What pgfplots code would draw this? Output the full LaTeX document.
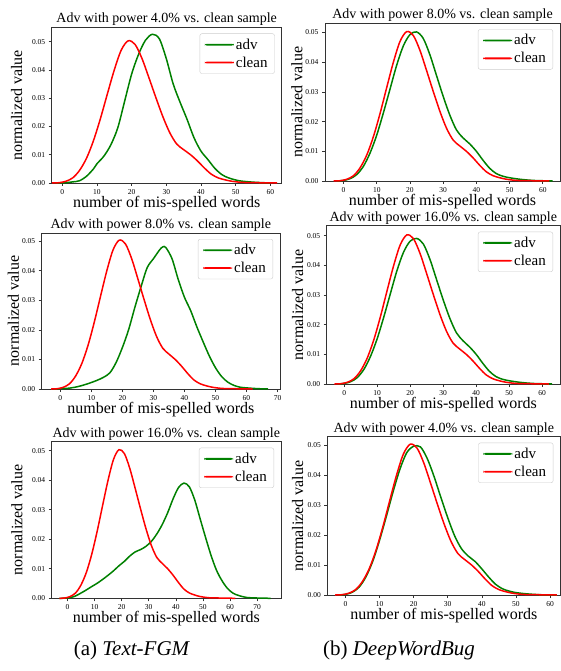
\documentclass[border=0pt]{standalone}
\usepackage{fontspec}
\setmainfont{Liberation Serif}
\usepackage{pgfplots}
\pgfplotsset{compat=1.18}

\definecolor{mgreen}{HTML}{008000}
\definecolor{mred}{HTML}{FF0000}

% clean sample density, shared by all panels
\pgfplotstableread{
x y
-3 0
-1 0.0001
1 0.0006
3 0.0018
5 0.0045
7 0.0088
9 0.0150
11 0.0228
13 0.0315
15 0.0400
17 0.0470
19 0.0503
21 0.0490
23 0.0440
25 0.0372
27 0.0302
29 0.0235
31 0.0178
33 0.0138
35 0.0118
37 0.0100
39 0.0078
41 0.0053
43 0.0031
45 0.0018
47 0.0011
49 0.0006
52 0.0002
56 0.0001
62 0
}\clean

\pgfplotsset{
  panel/.style={
    scale only axis, ymin=0, clip=false,
    axis line style={black!80,line width=0.7pt},
    tick pos=left, tick align=outside, major tick length=3pt,
    tick style={black!80,line width=0.6pt},
    ytick={0,0.01,0.02,0.03,0.04,0.05}, scaled y ticks=false,
    yticklabel style={/pgf/number format/.cd,fixed,fixed zerofill,precision=2},
    /pgf/number format/assume math mode=true,
    tick label style={font=\fontsize{7.5}{8}\selectfont},
    label style={font=\fontsize{16}{18}\selectfont},
    xlabel style={at={(0.5,0)},anchor=base,yshift=-24.5pt},
    legend style={at={(1,1)},xshift=-7pt,yshift=-6pt,anchor=north east,
      draw=black!20,rounded corners=2pt,fill=white,
      font=\fontsize{15}{17}\selectfont,row sep=2pt,inner xsep=5pt,inner ysep=3pt},
    legend cell align=left,
    legend image code/.code={\path[draw=none,fill] (0pt,-0.9pt) rectangle (29pt,0.9pt);},
    every axis plot/.append style={line width=1.5pt,smooth,no marks},
    xlabel={number of mis-spelled words}, ylabel={normalized value},
  }
}
\newcommand\ptitle[1]{\node[font=\fontsize{14}{16}\selectfont,anchor=base,yshift=4.7pt]
  at (axis description cs:0.5,1) {#1};}

\begin{document}
\begin{tikzpicture}
\useasboundingbox (0,0) rectangle (561pt,-671pt);

% ---------- (a) Text-FGM, 4% ----------
\begin{axis}[panel,at={(51.7pt,-27.5pt)},anchor=north west,
  width=230pt,height=155.5pt,xmin=-3.06,xmax=63.3,ymax=0.0550,
  xtick={0,10,...,60},
  ylabel style={at={(axis description cs:-0.129,0.5)},anchor=base}]
\addplot[mgreen] coordinates {(-2,0)(1,0.0001)(3,0.0004)(5,0.0008)(7,0.0024)(9,0.0050)(10,0.0068)(12,0.0095)(14,0.0135)(16,0.0195)(18,0.0290)(20,0.0385)(22,0.0455)(24,0.0505)(26,0.0526)(28,0.0510)(30,0.0440)(32,0.0350)(34,0.0285)(36,0.0225)(38,0.0160)(40,0.0113)(42,0.0083)(44,0.0052)(46,0.0030)(48,0.0018)(51,0.0008)(55,0.0003)(60,0)};
\addplot[mred] table {\clean};
\legend{adv,clean}
\ptitle{Adv with power 4.0\% vs. clean sample}
\end{axis}

% ---------- (a) Text-FGM, 8% ----------
\begin{axis}[panel,at={(41.7pt,-233pt)},anchor=north west,
  width=238.3pt,height=156pt,xmin=-6.0,xmax=70.8,ymax=0.0527,
  xtick={0,10,...,70},
  ylabel style={at={(axis description cs:-0.0953,0.5)},anchor=base}]
\addplot[mgreen] coordinates {(-2,0)(3,0.0003)(6,0.0009)(8,0.0015)(10,0.0022)(12,0.0030)(14,0.0040)(16,0.0055)(18,0.0090)(20,0.0140)(22,0.0200)(24,0.0275)(26,0.0345)(28,0.0410)(30,0.0440)(32,0.0470)(33,0.0480)(34,0.0478)(36,0.0440)(38,0.0370)(40,0.0310)(42,0.0265)(44,0.0210)(46,0.0160)(48,0.0112)(50,0.0072)(52,0.0042)(54,0.0023)(56,0.0012)(58,0.0006)(61,0.0003)(64,0.0001)(67,0)};
\addplot[mred] table {\clean};
\legend{adv,clean}
\ptitle{Adv with power 8.0\% vs. clean sample}
\end{axis}

% ---------- (a) Text-FGM, 16% ----------
\begin{axis}[panel,at={(51.7pt,-441.7pt)},anchor=north west,
  width=229.3pt,height=156.6pt,xmin=-5.8,xmax=78.8,ymax=0.0530,
  xtick={0,10,...,70},
  ylabel style={at={(axis description cs:-0.128,0.5)},anchor=base}]
\addplot[mgreen] coordinates {(-3,0)(0,0.0001)(2.5,0.0006)(6,0.0023)(9,0.0040)(11,0.0051)(13,0.0064)(15,0.0078)(17,0.0093)(19,0.0110)(21,0.0125)(23,0.0143)(25,0.0157)(27,0.0165)(29,0.0176)(31,0.0193)(33,0.0218)(35,0.0250)(37,0.0290)(39,0.0337)(41,0.0375)(43,0.0390)(45,0.0377)(47,0.0332)(49,0.0268)(51,0.0205)(53,0.0145)(55,0.0095)(57,0.0060)(59,0.0034)(61,0.0018)(63,0.0010)(66,0.0003)(70,0.0001)(75,0)};
\addplot[mred] table {\clean};
\legend{adv,clean}
\ptitle{Adv with power 16.0\% vs. clean sample}
\end{axis}

% ---------- (b) DeepWordBug, 8% ----------
\begin{axis}[panel,at={(325pt,-23.3pt)},anchor=north west,
  width=235pt,height=157.7pt,xmin=-5.6,xmax=65.2,ymax=0.0531,
  xtick={0,10,...,60},
  ylabel style={at={(axis description cs:-0.0966,0.5)},anchor=base}]
\addplot[mgreen] coordinates {(-2,0)(0,0.0002)(2,0.0008)(4,0.0022)(6,0.0050)(8,0.0095)(10,0.0155)(12,0.0230)(14,0.0310)(16,0.0390)(18,0.0455)(20,0.0493)(22,0.0502)(24,0.0480)(26,0.0425)(28,0.0355)(30,0.0285)(32,0.0222)(34,0.0172)(36,0.0145)(38,0.0125)(40,0.0100)(42,0.0070)(44,0.0043)(46,0.0025)(48,0.0016)(50,0.0011)(53,0.0006)(57,0.0002)(63,0)};
\addplot[mred] table {\clean};
\legend{adv,clean}
\ptitle{Adv with power 8.0\% vs. clean sample}
\end{axis}

% ---------- (b) DeepWordBug, 16% ----------
\begin{axis}[panel,at={(326.7pt,-225.7pt)},anchor=north west,
  width=233.3pt,height=158.3pt,xmin=-5.3,xmax=65.4,ymax=0.0534,
  xtick={0,10,...,60},
  ylabel style={at={(axis description cs:-0.1016,0.5)},anchor=base}]
\addplot[mgreen] coordinates {(-2,0)(0,0.0002)(2,0.0008)(4,0.0022)(6,0.0050)(8,0.0094)(10,0.0153)(12,0.0226)(14,0.0305)(16,0.0383)(18,0.0445)(20,0.0482)(22,0.0491)(24,0.0472)(26,0.0420)(28,0.0352)(30,0.0284)(32,0.0222)(34,0.0173)(36,0.0146)(38,0.0125)(40,0.0100)(42,0.0070)(44,0.0043)(46,0.0025)(48,0.0016)(50,0.0011)(53,0.0006)(57,0.0002)(63,0)};
\addplot[mred] table {\clean};
\legend{adv,clean}
\ptitle{Adv with power 16.0\% vs. clean sample}
\end{axis}

% ---------- (b) DeepWordBug, 4% ----------
\begin{axis}[panel,at={(327.3pt,-436.7pt)},anchor=north west,
  width=233pt,height=158.3pt,xmin=-5.3,xmax=63.0,ymax=0.0528,
  xtick={0,10,...,60},
  ylabel style={at={(axis description cs:-0.104,0.5)},anchor=base}]
\addplot[mgreen] coordinates {(-2,0)(0,0.0002)(2,0.0009)(4,0.0026)(6,0.0060)(8,0.0112)(10,0.0182)(12,0.0262)(14,0.0345)(16,0.0420)(18,0.0475)(20,0.0496)(22,0.0494)(24,0.0455)(26,0.0395)(28,0.0325)(30,0.0258)(32,0.0198)(34,0.0155)(36,0.0130)(38,0.0112)(40,0.0087)(42,0.0060)(44,0.0036)(46,0.0021)(48,0.0013)(50,0.0008)(53,0.0004)(57,0.0001)(62,0)};
\addplot[mred] table {\clean};
\legend{adv,clean}
\ptitle{Adv with power 4.0\% vs. clean sample}
\end{axis}

\node[font=\fontsize{21}{24}\selectfont] at (132pt,-650pt) {(a)\ \textit{Text-FGM}};
\node[font=\fontsize{21}{24}\selectfont] at (399pt,-650pt) {(b)\ \textit{DeepWordBug}};
\end{tikzpicture}
\end{document}
